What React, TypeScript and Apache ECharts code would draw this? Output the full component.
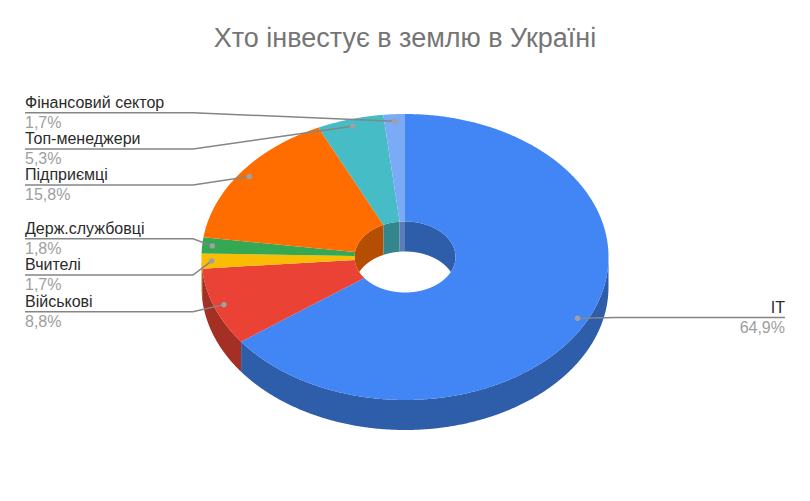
import React, { useEffect, useRef } from "react";
import * as echarts from "echarts";

const TITLE = "Хто інвестує в землю в Україні";
const CATEGORIES = ["IT", "Військові", "Вчителі", "Держ.службовці", "Підприємці", "Топ-менеджери", "Фінансовий сектор"];
const VALUES = [64.9, 8.8, 1.7, 1.8, 15.8, 5.3, 1.7];
const VALUE_LABELS = ["64,9%", "8,8%", "1,7%", "1,8%", "15,8%", "5,3%", "1,7%"];

const TOP_COLORS = ["#4285f4", "#ea4335", "#fbbc04", "#34a853", "#ff6d01", "#46bdc6", "#7baaf7"];
const SIDE_COLORS = ["#2e5daa", "#a32f25", "#b08403", "#24763a", "#b54e00", "#32868c", "#5a7db9"];
const LABEL_LINE_Y = [317.5, 311.7, 275, 238.7, 185, 149, 112.7];

const CX = 405;
const CY = 257;
const RX = 203.5;
const RY = 143;
const HOLE_RX = 50.5;
const HOLE_RY = 35.5;
const DEPTH = 30;
const FONT = "'Liberation Sans', Arial, sans-serif";

const TOTAL = VALUES.reduce((a, b) => a + b, 0);
const startAngle = (i: number) =>
  (VALUES.slice(0, i).reduce((a, b) => a + b, 0) / TOTAL) * Math.PI * 2;
const at = (a: number, rx: number, ry: number): [number, number] => [
  CX + rx * Math.sin(a),
  CY - ry * Math.cos(a),
];
const sweep = (a: number, b: number): number[] => {
  const n = Math.max(2, Math.ceil((b - a) / 0.006));
  const out: number[] = [];
  for (let k = 0; k <= n; k++) out.push(a + ((b - a) * k) / n);
  return out;
};

function renderSlice(params: any, api: any) {
  const i = params.dataIndex;
  const a0 = startAngle(i);
  const a1 = a0 + (api.value(0) / TOTAL) * Math.PI * 2;
  const children: any[] = [];

  // outer wall: only the front half of the rim (a from 90deg to 270deg) can be seen
  const fa = Math.max(a0, Math.PI / 2);
  const fb = Math.min(a1, (Math.PI * 3) / 2);
  if (fb > fa) {
    const arc = sweep(fa, fb).map((a) => at(a, RX, RY));
    const low = arc.map(([x, y]) => [x, y + DEPTH]).reverse();
    children.push({
      type: "polygon",
      shape: { points: [...arc, ...low] },
      style: { fill: SIDE_COLORS[i] },
    });
  }

  // inner wall of the hole: only the back half, cut off by the hole's own front rim
  const wall = (p: number, q: number) => {
    if (q <= p) return;
    const arc = sweep(p, q).map((a) => at(a, HOLE_RX, HOLE_RY));
    const low = arc
      .map(([x, y]) => {
        const u = (x - CX) / HOLE_RX;
        const front = CY + HOLE_RY * Math.sqrt(Math.max(0, 1 - u * u));
        return [x, Math.min(y + DEPTH, front)];
      })
      .reverse();
    children.push({
      type: "polygon",
      shape: { points: [...arc, ...low] },
      style: { fill: SIDE_COLORS[i] },
    });
  };
  wall(a0, Math.min(a1, Math.PI / 2));
  wall(Math.max(a0, (Math.PI * 3) / 2), a1);

  // top face
  const outer = sweep(a0, a1).map((a) => at(a, RX, RY));
  const inner = sweep(a0, a1)
    .reverse()
    .map((a) => at(a, HOLE_RX, HOLE_RY));
  children.push({
    type: "polygon",
    z2: 5,
    shape: { points: [...outer, ...inner] },
    style: { fill: TOP_COLORS[i] },
  });
  return { type: "group", children };
}

function renderLabel(params: any, api: any) {
  const i = params.dataIndex;
  const mid = startAngle(i) + (api.value(0) / TOTAL) * Math.PI;
  const [dx, dy] = at(mid, RX * 0.95, RY * 0.95);
  const y = LABEL_LINE_Y[i];
  const left = dx < CX;
  const edge = left ? 25 : 785;
  const elbow = left ? 193 : 617;
  const align = left ? "left" : "right";
  return {
    type: "group",
    children: [
      {
        type: "polyline",
        shape: { points: [[edge, y], [elbow, y], [dx, dy]] },
        style: { stroke: "#858585", lineWidth: 1.5, fill: "none" },
      },
      { type: "circle", shape: { cx: dx, cy: dy, r: 2.8 }, style: { fill: "#a0a0a0" } },
      {
        type: "text",
        style: {
          x: edge, y: y - 10.5, text: CATEGORIES[i], fill: "#2b2b2b",
          font: `16px ${FONT}`, textAlign: align, textVerticalAlign: "middle",
        },
      },
      {
        type: "text",
        style: {
          x: edge, y: y + 9.5, text: VALUE_LABELS[i], fill: "#9e9e9e",
          font: `16px ${FONT}`, textAlign: align, textVerticalAlign: "middle",
        },
      },
    ],
  };
}

export default function App() {
  const ref = useRef<HTMLDivElement>(null);
  useEffect(() => {
    const chart = echarts.init(ref.current!, undefined, { renderer: "svg" });
    chart.setOption({
      animation: false,
      backgroundColor: "#ffffff",
      title: {
        text: TITLE,
        left: "center",
        top: 19,
        textStyle: { color: "#757575", fontSize: 27, fontWeight: "normal", fontFamily: FONT },
      },
      series: [
        {
          type: "custom",
          coordinateSystem: "none",
          silent: true,
          renderItem: renderSlice,
          data: VALUES.map((v) => [v]),
          z: 2,
        },
        {
          type: "custom",
          coordinateSystem: "none",
          silent: true,
          renderItem: renderLabel,
          data: VALUES.map((v) => [v]),
          z: 3,
        },
      ],
    });
    return () => chart.dispose();
  }, []);
  return (
    <div
      ref={ref}
      style={{ position: "absolute", left: 0, top: 0, width: 810, height: 501, background: "#fff" }}
    />
  );
}
